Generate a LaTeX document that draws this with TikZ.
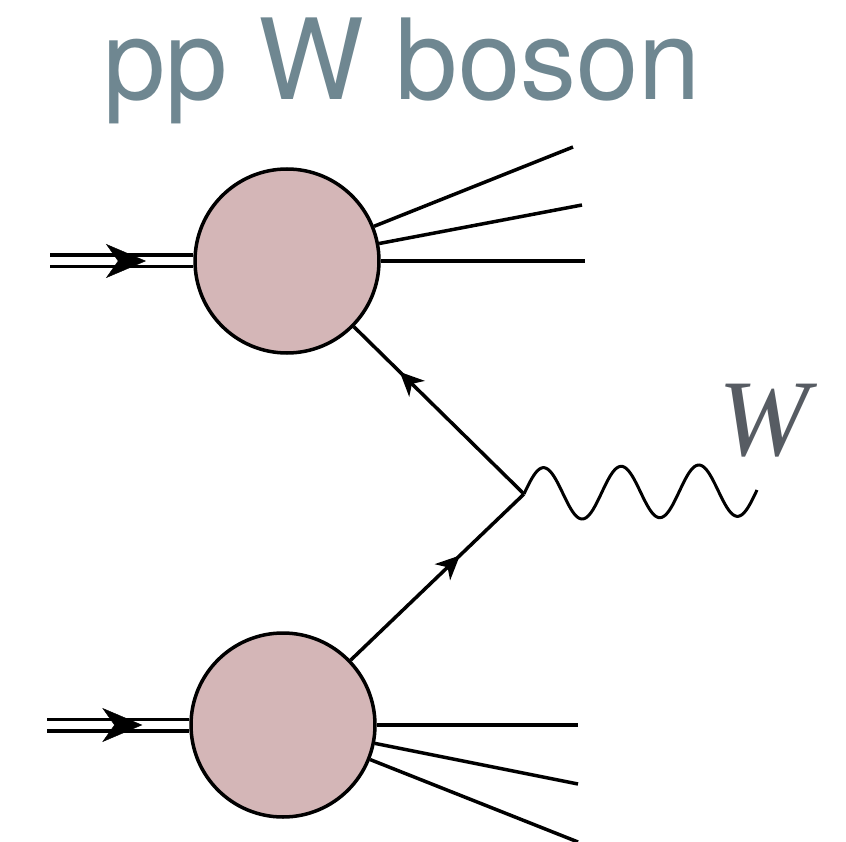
\documentclass[tikz,border=0pt]{standalone}
\usepackage{fontspec}
\setmainfont{TeX Gyre Heros}
\newfontfamily\wfont{Liberation Serif}
\usetikzlibrary{arrows.meta,decorations.markings,calc}
\definecolor{titlecol}{HTML}{6F8791}
\definecolor{blobcol}{HTML}{D4B6B7}
\definecolor{wcol}{HTML}{575C63}
\tikzset{
  blob/.style={circle, draw=black, line width=3.5pt, fill=blobcol, minimum size=184pt, inner sep=0pt},
  hadron/.style={double, line width=3.5pt, double distance=8pt},
  leg/.style={line width=3.5pt},
  fermion/.style={line width=3.5pt},
  hadarrow/.style={decoration={markings, mark=at position #1 with {\arrow{Stealth[length=40pt,width=34pt,inset=12pt]}}}, postaction=decorate},
  ferarrow/.style={decoration={markings, mark=at position #1 with {\arrow{Stealth[length=24pt,width=22pt,inset=7pt]}}}, postaction=decorate},
}
\begin{document}
\begin{tikzpicture}[x=1pt,y=-1pt]
\useasboundingbox (0,0) rectangle (846,842);
\fill[white] (0,0) rectangle (846,842);
% title
\node[anchor=base west, inner sep=0pt, text=titlecol, font=\fontsize{112}{120}\selectfont] (title) at (103,100) {pp W boson};
% blobs
\node[blob] (c1) at (287,261) {};
\node[blob] (c2) at (283,725) {};
% coordinates
\coordinate (in1) at (50,261);
\coordinate (in2) at (47,725);
\coordinate (v) at (524,494);
\coordinate (wend) at (757,490);
\coordinate (o1) at (573,147);
\coordinate (o2) at (582,205);
\coordinate (o3) at (585,261);
\coordinate (p1) at (578,725);
\coordinate (p2) at (578,784);
\coordinate (p3) at (578,842);
% incoming hadrons
\draw[hadron] (in1) -- (c1);
\path[hadarrow=0.67] (in1) -- (c1.west);
\draw[hadron] (in2) -- (c2);
\path[hadarrow=0.67] (in2) -- (c2.west);
% outgoing remnants
\draw[leg] (c1) -- (o1);
\draw[leg] (c1) -- (o2);
\draw[leg] (c1) -- (o3);
\draw[leg] (c2) -- (p1);
\draw[leg] (c2) -- (p2);
\draw[leg] (c2) -- (p3);
% quark lines
\draw[fermion, ferarrow=0.73] (v) -- (c1);
\draw[fermion, ferarrow=0.63] (c2) -- (v);
% W boson
\draw[line width=3pt, shift={(v)}] plot[domain=0:233, samples=150, smooth] (\x, {-4*\x/233 - 26*sin(\x/233*3*360)});
\node[anchor=base west, inner sep=0pt, text=wcol, font=\wfont\itshape\fontsize{109}{120}\selectfont] (wlab) at (718,455) {W};
\end{tikzpicture}
\end{document}
